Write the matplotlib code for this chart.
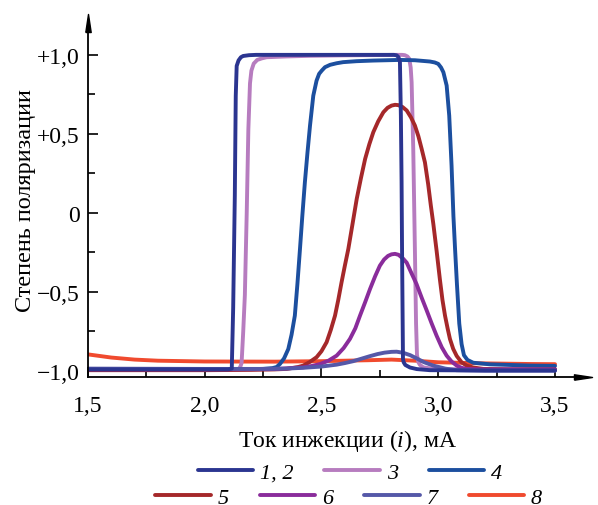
import numpy as np
import matplotlib
matplotlib.use("Agg")
import matplotlib.pyplot as plt
from matplotlib.ticker import FixedLocator

plt.rcParams['font.family'] = ['Liberation Serif', 'DejaVu Serif']
plt.rcParams['mathtext.fontset'] = 'custom'
plt.rcParams['mathtext.rm'] = 'Liberation Serif'
plt.rcParams['mathtext.it'] = 'Liberation Serif:italic'

# injection current, mA / degree of polarization for each curve
x12 = [1.5, 1.8, 2.1, 2.116, 2.122, 2.129, 2.133, 2.137, 2.145, 2.155, 2.165, 2.19, 2.22,
       2.5, 2.81, 2.822, 2.83, 2.836, 2.84, 2.843, 2.845, 2.849, 2.852, 2.859, 2.879,
       2.908, 2.964, 3.2, 3.5]
y12 = [-0.99, -0.99, -0.99, -0.985, -0.6, 0.11, 0.74, 0.93, 0.965, 0.985, 0.993, 0.998, 1.0,
       1.0, 1.0, 0.997, 0.985, 0.954, 0.616, 0.2, -0.228, -0.924, -0.945, -0.962, -0.978,
       -0.988, -0.995, -0.997, -0.997]

x3 = [1.5, 2.0, 2.145, 2.152, 2.158, 2.165, 2.172, 2.18, 2.187, 2.194, 2.2, 2.21, 2.225,
      2.245, 2.265, 2.35, 2.451, 2.6, 2.822, 2.845, 2.857, 2.868, 2.876, 2.882, 2.886,
      2.893, 2.9, 2.905, 2.909, 2.915, 2.922, 2.936, 2.979, 3.1, 3.5]
y3 = [-0.99, -0.99, -0.988, -0.975, -0.95, -0.75, -0.52, 0.0, 0.53, 0.82, 0.9, 0.945, 0.968,
      0.978, 0.985, 0.99, 0.994, 0.997, 1.0, 1.0, 0.998, 0.99, 0.975, 0.92, 0.827,
      0.405, -0.228, -0.7, -0.9, -0.945, -0.962, -0.977, -0.987, -0.99, -0.99]

x4 = [1.5, 2.0, 2.25, 2.29, 2.308, 2.322, 2.34, 2.358, 2.372, 2.386, 2.397, 2.408, 2.418,
      2.429, 2.44, 2.451, 2.465, 2.479, 2.49, 2.501, 2.515, 2.537, 2.565, 2.593, 2.65,
      2.722, 2.836, 2.9, 2.964, 2.985, 3.0, 3.012, 3.022, 3.036, 3.047, 3.057, 3.065,
      3.072, 3.08, 3.09, 3.1, 3.11, 3.125, 3.15, 3.222, 3.393, 3.5]
y4 = [-0.99, -0.99, -0.987, -0.982, -0.975, -0.956, -0.92, -0.861, -0.77, -0.65, -0.45, -0.228, -0.02,
      0.194, 0.38, 0.553, 0.742, 0.837, 0.88, 0.9, 0.922, 0.937, 0.947, 0.954, 0.96,
      0.964, 0.968, 0.966, 0.958, 0.952, 0.943, 0.92, 0.89, 0.806, 0.616, 0.3, -0.02,
      -0.228, -0.45, -0.7, -0.83, -0.9, -0.93, -0.948, -0.958, -0.966, -0.968]

x5 = [1.5, 2.0, 2.2, 2.3, 2.351, 2.4, 2.422, 2.45, 2.479, 2.5, 2.522, 2.54, 2.558, 2.572,
      2.586, 2.6, 2.615, 2.633, 2.651, 2.669, 2.687, 2.705, 2.722, 2.743, 2.765, 2.783,
      2.8, 2.815, 2.829, 2.847, 2.865, 2.883, 2.9, 2.915, 2.929, 2.943, 2.957, 2.968,
      2.979, 2.993, 3.007, 3.018, 3.029, 3.04, 3.05, 3.064, 3.079, 3.1, 3.121, 3.15,
      3.193, 3.3, 3.5]
y5 = [-0.995, -0.995, -0.993, -0.99, -0.987, -0.975, -0.966, -0.943, -0.913, -0.875, -0.818,
      -0.74, -0.65, -0.55, -0.439, -0.335, -0.228, -0.07, 0.089, 0.22, 0.342, 0.435,
      0.511, 0.58, 0.637, 0.665, 0.679, 0.684, 0.682, 0.67, 0.648, 0.605, 0.553, 0.485,
      0.405, 0.32, 0.18, 0.05, -0.07, -0.24, -0.42, -0.55, -0.65, -0.73, -0.797, -0.86,
      -0.905, -0.945, -0.966, -0.978, -0.987, -0.99, -0.99]

x6 = [1.5, 2.0, 2.3, 2.422, 2.46, 2.494, 2.53, 2.565, 2.595, 2.622, 2.645, 2.665, 2.687,
      2.708, 2.73, 2.75, 2.768, 2.785, 2.8, 2.815, 2.83, 2.85, 2.865, 2.885, 2.907, 2.93,
      2.95, 2.972, 2.993, 3.015, 3.036, 3.057, 3.079, 3.1, 3.121, 3.2, 3.5]
y6 = [-0.99, -0.99, -0.988, -0.977, -0.968, -0.956, -0.935, -0.903, -0.855, -0.797, -0.73,
      -0.65, -0.565, -0.481, -0.4, -0.334, -0.295, -0.272, -0.262, -0.259, -0.265, -0.29,
      -0.315, -0.38, -0.45, -0.54, -0.615, -0.7, -0.777, -0.85, -0.903, -0.94, -0.966,
      -0.98, -0.987, -0.99, -0.99]

x7 = [1.5, 2.0, 2.237, 2.35, 2.422, 2.5, 2.565, 2.6, 2.636, 2.672, 2.708, 2.74, 2.77, 2.8,
      2.822, 2.85, 2.88, 2.907, 2.94, 2.979, 3.03, 3.079, 3.2, 3.5]
y7 = [-0.985, -0.987, -0.987, -0.985, -0.98, -0.972, -0.96, -0.95, -0.938, -0.922, -0.906,
      -0.893, -0.884, -0.879, -0.878, -0.885, -0.9, -0.92, -0.945, -0.966, -0.985, -0.995,
      -0.998, -0.998]

x8 = [1.5, 1.6, 1.7, 1.8, 2.0, 2.3, 2.5, 2.7, 2.8, 2.9, 3.0, 3.2, 3.4, 3.5]
y8 = [-0.895, -0.915, -0.928, -0.935, -0.94, -0.941, -0.938, -0.932, -0.928, -0.935,
      -0.945, -0.952, -0.956, -0.957]

xticks = [1.5, 2.0, 2.5, 3.0, 3.5]
xtick_labels = ['1,5', '2,0', '2,5', '3,0', '3,5']
yticks = [-1.0, -0.5, 0.0, 0.5, 1.0]
ytick_labels = ['\u22121,0', '\u22120,5', '0', '+0,5', '+1,0']

fig = plt.figure(figsize=(5.98, 5.06), dpi=100)
ax = fig.add_axes([0.147, 0.253, 0.828, 0.700])

lw = 2.8
style = dict(lw=lw, solid_capstyle='round', solid_joinstyle='round')
l8, = ax.plot(x8, y8, color='#f04a2e', **style)
l3, = ax.plot(x3, y3, color='#b77cbf', **style)
l4, = ax.plot(x4, y4, color='#1c4f9f', **style)
l5, = ax.plot(x5, y5, color='#a5282a', **style)
l6, = ax.plot(x6, y6, color='#8a2c9b', **style)
l7, = ax.plot(x7, y7, color='#5558a8', **style)
l12, = ax.plot(x12, y12, color='#2b3590', **style)

ax.set_xlim(1.5, 3.62)
ax.set_ylim(-1.038, 1.203)

for s in ['top', 'right']:
    ax.spines[s].set_visible(False)
for s in ['left', 'bottom']:
    ax.spines[s].set_linewidth(1.3)

ax.xaxis.set_major_locator(FixedLocator(xticks))
ax.set_xticklabels(xtick_labels)
ax.xaxis.set_minor_locator(FixedLocator([1.75, 2.25, 2.75, 3.25]))
ax.yaxis.set_major_locator(FixedLocator(yticks))
ax.set_yticklabels(ytick_labels)
ax.yaxis.set_minor_locator(FixedLocator([-0.75, -0.25, 0.25, 0.75]))

ax.tick_params(axis='both', which='both', direction='in', width=1.2, labelsize=17)
ax.tick_params(axis='both', which='major', length=7)
ax.tick_params(axis='both', which='minor', length=5)
ax.tick_params(axis='x', which='major', pad=13)
ax.tick_params(axis='y', which='major', pad=6)

# arrowheads at the ends of the axes
head = [(-0.3, -1), (0, 1), (0.3, -1), (-0.3, -1)]
ax.plot(0, 1, marker=head, markersize=13, color='black', transform=ax.transAxes, clip_on=False)
head_r = [(-1, -0.3), (1, 0), (-1, 0.3), (-1, -0.3)]
ax.plot(1, 0, marker=head_r, markersize=13, color='black', transform=ax.transAxes, clip_on=False)

ax.set_ylabel('Степень поляризации', fontsize=17.5)
ax.yaxis.set_label_coords(-0.105, 0.5)
ax.set_xlabel('Ток инжекции ($\\mathit{i}$), мА', fontsize=17)
ax.xaxis.set_label_coords(0.525, -0.14)

leg_font = {'family': 'Liberation Serif', 'style': 'italic', 'size': 16}
leg_kw = dict(loc='center', frameon=False, handlelength=2.5, handletextpad=0.3,
              columnspacing=1.4, prop=leg_font)
fig.legend([l12, l3, l4], ['1, 2', '3', '4'], ncol=3,
           bbox_to_anchor=(0.585, 0.064), **leg_kw)
fig.legend([l5, l6, l7, l8], ['5', '6', '7', '8'], ncol=4,
           bbox_to_anchor=(0.583, 0.014), **leg_kw)

fig.savefig('out.png', dpi=100)
